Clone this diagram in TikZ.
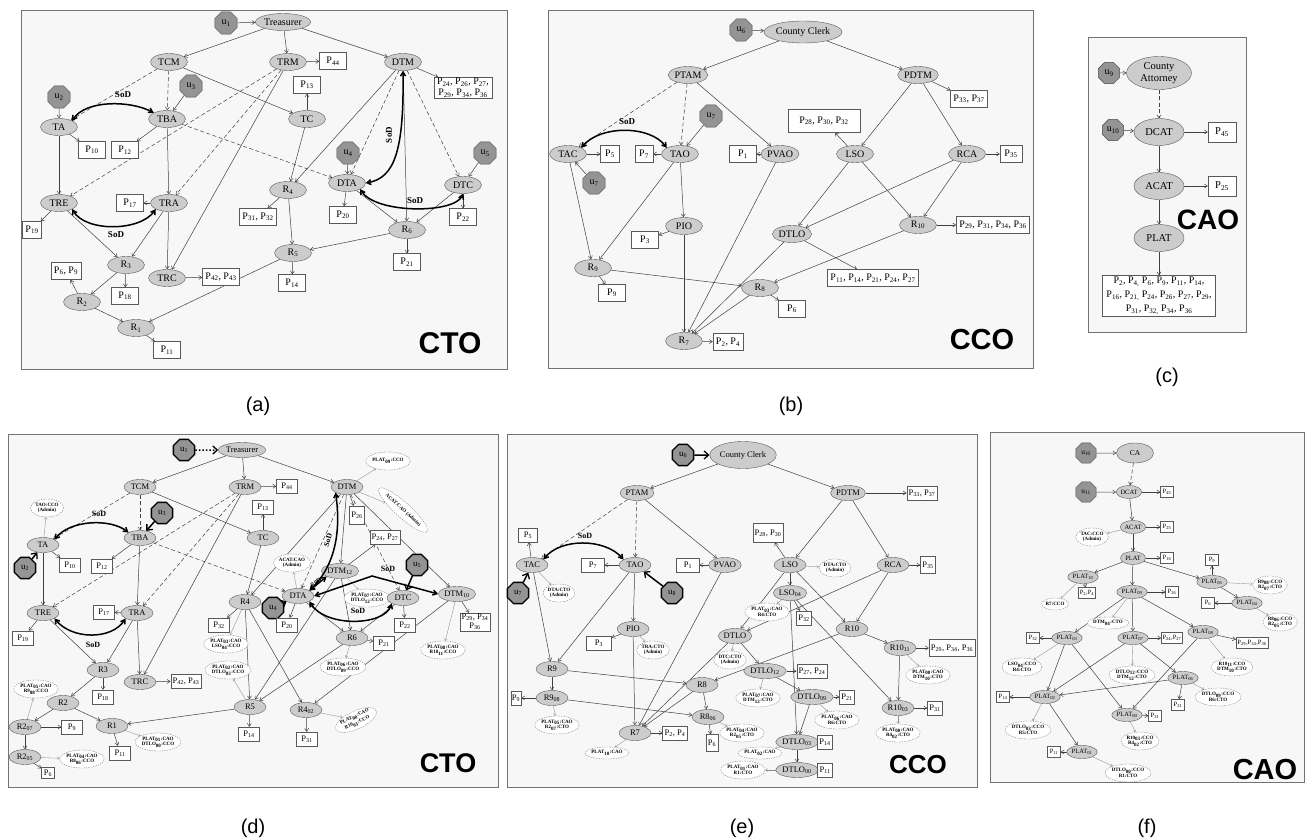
\documentclass[tikz,border=0pt]{standalone}
\usepackage{fontspec}
\setmainfont{Liberation Serif}
\setsansfont{Liberation Sans}
\usetikzlibrary{shapes.geometric,arrows.meta}
\pgfdeclarelayer{back}\pgfdeclarelayer{mid}\pgfsetlayers{back,mid,main}
\newcommand\Ps[1]{P\textsubscript{#1}}
\newcommand\ssb[1]{\textsubscript{#1}}
\tikzset{
 ea/.style={ellipse, draw=black!65, fill=black!20, inner sep=0.5pt, minimum width=37, minimum height=17, font=\fontsize{10}{11}\selectfont},
 ed/.style={ea, minimum width=32, minimum height=15, font=\fontsize{8.5}{9}\selectfont},
 ef/.style={ea, minimum width=25, minimum height=13, font=\fontsize{6.5}{7}\selectfont},
 ec/.style={ea, minimum width=50, minimum height=27, font=\fontsize{10.5}{12}\selectfont},
 ba/.style={rectangle, draw=black!65, fill=white, inner xsep=3pt, inner ysep=1pt, minimum width=27, minimum height=17, font=\fontsize{10}{11}\selectfont},
 bd/.style={ba, inner xsep=2pt, minimum width=21, minimum height=14, font=\fontsize{8.5}{9.5}\selectfont},
 bf/.style={ba, inner xsep=1.2pt, minimum width=13, minimum height=11, font=\fontsize{6.5}{7}\selectfont},
 bc/.style={ba, minimum width=28, minimum height=20, font=\fontsize{10.5}{12}\selectfont},
 oa/.style={regular polygon, regular polygon sides=8, draw=black!70, fill=black!42, minimum size=24, inner sep=0pt, font=\fontsize{10}{11}\selectfont},
 od/.style={oa, line width=1.3pt, draw=black, minimum size=23, font=\fontsize{9}{10}\selectfont},
 ofx/.style={oa, minimum size=22, font=\fontsize{7.5}{8}\selectfont},
 an/.style={ellipse, draw=black!50, dashed, dash pattern=on 1.5pt off 1pt, line width=0.35pt, fill=white, inner sep=0pt, minimum height=18, align=center, font=\bfseries\fontsize{5}{5.5}\selectfont},
 ar/.style={-{Straight Barb[length=3pt,width=4pt]}, draw=black!75, line width=0.5pt},
 da/.style={ar, dash pattern=on 4pt off 2.5pt},
 lt/.style={-{Straight Barb[length=2pt,width=2.8pt]}, draw=black!45, line width=0.35pt},
 sod/.style={{Straight Barb[length=4pt,width=5pt]}-{Straight Barb[length=4pt,width=5pt]}, line width=1.5pt, draw=black},
 sodl/.style={font=\bfseries\fontsize{9}{9}\selectfont, inner sep=0.5pt},
 uarr/.style={-{Straight Barb[length=4.5pt,width=8pt,line width=1.3pt]}, line width=1.5pt, draw=black},
 big/.style={font=\sffamily\bfseries\fontsize{30}{30}\selectfont, inner sep=0pt},
 lab/.style={font=\sffamily\fontsize{20}{20}\selectfont},
 panel/.style={draw=black!55, fill=black!3, line width=0.8pt},
}
\begin{document}
\begin{tikzpicture}[x=1pt,y=-1pt]
\useasboundingbox (0,0) rectangle (1306,840);
\begin{pgfonlayer}{back}
\fill[white] (0,0) rectangle (1306,840);
\draw[panel] (21,10) rectangle (507,369);
\draw[panel] (548,10) rectangle (1033,368);
\draw[panel] (1088,37) rectangle (1246,332);
\draw[panel] (8,434) rectangle (498,787);
\draw[panel] (507,434) rectangle (977,787);
\draw[panel] (990,432) rectangle (1304.5,782);
\end{pgfonlayer}
\node[lab] (la) at (258,406) {(a)};
\node[lab] (lb) at (791,406) {(b)};
\node[lab] (lc) at (1167,377) {(c)};
\node[lab] (ld) at (253,828) {(d)};
\node[lab] (le) at (742,828) {(e)};
\node[lab] (lf) at (1147,828) {(f)};

% ================= (a)
\node[oa] (a-u1) at (226,23) {u\ssb{1}};
\node[ea] (a-Tr) at (283,22) {Treasurer};
\node[ea] (a-TCM) at (169,62) {TCM};
\node[ea] (a-TRM) at (288,62) {TRM};
\node[ea] (a-DTM) at (403,62) {DTM};
\node[ba] (a-P44) at (333,61) {\Ps{44}};
\node[ba] (a-P13) at (307,85) {\Ps{13}};
\node[ba, align=center] (a-P24) at (463,88) {\Ps{24}, \Ps{26}, \Ps{27},\\\Ps{29}, \Ps{34}, \Ps{36}};
\node[oa] (a-u2) at (59,97) {u\ssb{2}};
\node[oa] (a-u3) at (191,86) {u\ssb{3}};
\node[ea] (a-TA) at (59,127) {TA};
\node[ea] (a-TBA) at (167,119) {TBA};
\node[ea] (a-TC) at (307,119) {TC};
\node[ba] (a-P10) at (92,150) {\Ps{10}};
\node[ba] (a-P12) at (125,150) {\Ps{12}};
\node[oa] (a-u4) at (348,153) {u\ssb{4}};
\node[oa] (a-u5) at (485,153) {u\ssb{5}};
\node[ea] (a-DTA) at (347,183) {DTA};
\node[ea] (a-DTC) at (463,185) {DTC};
\node[ea] (a-R4) at (288,190) {R\ssb{4}};
\node[ea] (a-TRE) at (59,203) {TRE};
\node[ba] (a-P17) at (130,203) {\Ps{17}};
\node[ea] (a-TRA) at (169,203) {TRA};
\node[ba] (a-P20) at (343,215) {\Ps{20}};
\node[ba] (a-P22) at (463,217) {\Ps{22}};
\node[ba] (a-P3132) at (258,217) {\Ps{31}, \Ps{32}};
\node[ba, minimum width=18] (a-P19) at (32,230) {\Ps{19}};
\node[ea] (a-R6) at (407,230) {R\ssb{6}};
\node[ea] (a-R5) at (293,253) {R\ssb{5}};
\node[ba] (a-P21) at (407,262) {\Ps{21}};
\node[ea] (a-R3) at (126,265) {R\ssb{3}};
\node[ba] (a-P69) at (66,271) {\Ps{6}, \Ps{9}};
\node[ea] (a-TRC) at (167,278) {TRC};
\node[ba] (a-P4243) at (221,277) {\Ps{42}, \Ps{43}};
\node[ba] (a-P14) at (292,283) {\Ps{14}};
\node[ba] (a-P18) at (125,296) {\Ps{18}};
\node[ea] (a-R2) at (82,302) {R\ssb{2}};
\node[ea] (a-R1) at (136,328) {R\ssb{1}};
\node[ba] (a-P11) at (167,350) {\Ps{11}};
\node[big] (a-lbl) at (450,343) {CTO};
\begin{pgfonlayer}{mid}
\draw[ar] (a-u1) -- (a-Tr);
\draw[ar] (a-Tr) -- (a-TCM);
\draw[ar] (a-Tr) -- (a-TRM);
\draw[ar] (a-Tr) -- (a-DTM);
\draw[da] (a-TCM) -- (a-TA);
\draw[da] (a-TCM) -- (a-TBA);
\draw[ar] (a-TCM) -- (a-TC);
\draw[ar] (a-TRM) -- (a-P44);
\draw[da] (a-TRM) -- (a-TRE);
\draw[da] (a-TRM) -- (a-TRA);
\draw[ar] (a-TRM) -- (a-TRC);
\draw[ar] (a-TC) -- (a-P13);
\draw[ar] (a-TC) -- (a-R4);
\draw[ar] (a-u2) -- (a-TA);
\draw[ar] (a-u3) -- (a-TBA);
\draw[ar] (a-TA) -- (a-P10);
\draw[ar] (a-TA) -- (a-TRE);
\draw[ar] (a-TBA) -- (a-P12);
\draw[ar] (a-TBA) -- (a-TRA);
\draw[da] (a-TBA) -- (a-DTA);
\draw[ar] (a-TRA) -- (a-P17);
\draw[ar] (a-TRA) -- (a-R3);
\draw[ar] (a-TRA) -- (a-TRC);
\draw[ar] (a-TRE) -- (a-P19);
\draw[ar] (a-TRE) -- (a-R3);
\draw[ar] (a-TRC) -- (a-P4243);
\draw[ar] (a-R3) -- (a-R2);
\draw[ar] (a-R3) -- (a-P18);
\draw[ar] (a-R2) -- (a-P69);
\draw[ar] (a-R2) -- (a-R1);
\draw[ar] (a-R1) -- (a-P11);
\draw[ar] (a-DTM) -- (a-R4);
\draw[da] (a-DTM) -- (a-DTA);
\draw[da] (a-DTM) -- (a-DTC);
\draw[ar] (a-DTM) -- (a-P24);
\draw[ar] (a-DTM) -- (a-R6);
\draw[ar] (a-u4) -- (a-DTA);
\draw[ar] (a-u5) -- (a-DTC);
\draw[ar] (a-DTA) -- (a-P20);
\draw[ar] (a-DTA) -- (a-R6);
\draw[ar] (a-DTC) -- (a-R6);
\draw[ar] (a-DTC) -- (a-P22);
\draw[ar] (a-R4) -- (a-P3132);
\draw[ar] (a-R4) -- (a-R5);
\draw[ar] (a-R6) -- (a-R5);
\draw[ar] (a-R6) -- (a-P21);
\draw[ar] (a-R5) -- (a-P14);
\draw[ar] (a-R5) -- (a-R1);
\end{pgfonlayer}
\draw[sod] (a-TA.north east) .. controls (85,100) and (130,100) .. (a-TBA.north west);
\node[sodl] (a-s1) at (123,95) {SoD};
\draw[sod] (a-TRE.south east) .. controls (85,232) and (140,232) .. (a-TRA.south west);
\node[sodl] (a-s2) at (116,235) {SoD};
\draw[sod] (a-DTM.south) .. controls (404,150) and (395,178) .. (a-DTA.east);
\node[sodl, rotate=90] (a-s3) at (389,135) {SoD};
\draw[sod] (a-DTA.south east) .. controls (375,214) and (455,214) .. (a-DTC.south);
\node[sodl] (a-s4) at (415,201) {SoD};

% ================= (b)
\node[oa] (b-u6) at (741,30) {u\ssb{6}};
\node[ea, minimum height=22] (b-CC) at (803,32) {County Clerk};
\node[ea] (b-PTAM) at (688,75) {PTAM};
\node[ea] (b-PDTM) at (918,75) {PDTM};
\node[ba] (b-P3337) at (969,99) {\Ps{33}, \Ps{37}};
\node[ba, minimum width=72, minimum height=23] (b-P283032) at (824,121) {\Ps{28}, \Ps{30}, \Ps{32}};
\node[oa] (b-u7a) at (711,116) {u\ssb{7}};
\node[ea] (b-TAC) at (568,154) {TAC};
\node[ba, minimum width=19] (b-P5) at (610,154) {\Ps{5}};
\node[ba, minimum width=18] (b-P7) at (644,154) {\Ps{7}};
\node[ea] (b-TAO) at (680,154) {TAO};
\node[ba] (b-P1) at (743,154) {\Ps{1}};
\node[ea] (b-PVAO) at (780,154) {PVAO};
\node[ea] (b-LSO) at (855,154) {LSO};
\node[ea] (b-RCA) at (967,154) {RCA};
\node[ba, minimum width=22] (b-P35) at (1011,154) {\Ps{35}};
\node[oa] (b-u7b) at (594,183) {u\ssb{7}};
\node[ea] (b-PIO) at (684,226) {PIO};
\node[ea] (b-R10) at (918,225) {R\ssb{10}};
\node[ba] (b-P29) at (993,225) {\Ps{29}, \Ps{31}, \Ps{34}, \Ps{36}};
\node[ba] (b-P3) at (645,240) {\Ps{3}};
\node[ea] (b-DTLO) at (792,234) {DTLO};
\node[ea] (b-R9) at (593,268) {R\ssb{9}};
\node[ba] (b-P11) at (873,278) {\Ps{11}, \Ps{14}, \Ps{21}, \Ps{24}, \Ps{27}};
\node[ea] (b-R8) at (760,288) {R\ssb{8}};
\node[ba] (b-P9) at (612,293) {\Ps{9}};
\node[ba] (b-P6) at (792,309) {\Ps{6}};
\node[ea] (b-R7) at (684,341) {R\ssb{7}};
\node[ba] (b-P24) at (728,342) {\Ps{2}, \Ps{4}};
\node[big, font=\sffamily\bfseries\fontsize{29}{29}\selectfont] (b-lbl) at (982,340) {CCO};
\begin{pgfonlayer}{mid}
\draw[ar] (b-u6) -- (b-CC);
\draw[ar] (b-CC) -- (b-PTAM);
\draw[ar] (b-CC) -- (b-PDTM);
\draw[da] (b-PTAM) -- (b-TAC);
\draw[da] (b-PTAM) -- (b-TAO);
\draw[ar] (b-PTAM) -- (b-PVAO);
\draw[ar] (b-u7a) -- (b-TAO);
\draw[ar] (b-u7b) -- (b-TAC);
\draw[ar] (b-TAC) -- (b-P5);
\draw[ar] (b-TAO) -- (b-P7);
\draw[ar] (b-PVAO) -- (b-P1);
\draw[ar] (b-TAC) -- (b-R9);
\draw[ar] (b-TAO) -- (b-R9);
\draw[ar] (b-TAO) -- (b-PIO);
\draw[ar] (b-PIO) -- (b-P3);
\draw[ar] (b-PIO) -- (b-R7);
\draw[ar] (b-PVAO) -- (b-R7);
\draw[ar] (b-R9) -- (b-P9);
\draw[ar] (b-R9) -- (b-R8);
\draw[ar] (b-R8) -- (b-P6);
\draw[ar] (b-R8) -- (b-R7);
\draw[ar] (b-DTLO) -- (b-R7);
\draw[ar] (b-R10) -- (b-R8);
\draw[ar] (b-R7) -- (b-P24);
\draw[ar] (b-PDTM) -- (b-P3337);
\draw[ar] (b-PDTM) -- (b-LSO);
\draw[ar] (b-PDTM) -- (b-RCA);
\draw[ar] (b-LSO) -- (b-P283032);
\draw[ar] (b-LSO) -- (b-DTLO);
\draw[ar] (b-LSO) -- (b-R10);
\draw[ar] (b-RCA) -- (b-DTLO);
\draw[ar] (b-RCA) -- (b-R10);
\draw[ar] (b-RCA) -- (b-P35);
\draw[ar] (b-R10) -- (b-P29);
\draw[ar] (b-DTLO) -- (b-P11);
\end{pgfonlayer}
\draw[sod] (b-TAC.north east) .. controls (600,125) and (650,125) .. (b-TAO.north west);
\node[sodl] (b-s1) at (627,122) {SoD};

% ================= (c)
\node[oa, minimum size=23] (c-u9) at (1109,73) {u\ssb{9}};
\node[ec, align=center, minimum width=65, minimum height=33] (c-CA) at (1159,73) {County\\Attorney};
\node[oa, minimum size=23] (c-u10) at (1113,130) {u\ssb{10}};
\node[ec] (c-DCAT) at (1159,132) {DCAT};
\node[bc] (c-P45) at (1222,132) {\Ps{45}};
\node[ec] (c-ACAT) at (1159,186) {ACAT};
\node[bc] (c-P25) at (1222,186) {\Ps{25}};
\node[ec] (c-PLAT) at (1159,238) {PLAT};
\node[big, font=\sffamily\bfseries\fontsize{28}{28}\selectfont] (c-lbl) at (1208,220) {CAO};
\node[ba, align=center, inner xsep=4pt, inner ysep=2pt, font=\fontsize{10}{14}\selectfont] (c-Pb) at (1159,296) {\Ps{2}, \Ps{4,} \Ps{6}, \Ps{9}, \Ps{11}, \Ps{14},\\\Ps{16}, \Ps{21,} \Ps{24}, \Ps{26}, \Ps{27}, \Ps{29},\\\Ps{31}, \Ps{32,} \Ps{34}, \Ps{36}};
\begin{pgfonlayer}{mid}
\draw[ar] (c-u9) -- (c-CA);
\draw[da] (c-CA) -- (c-DCAT);
\draw[ar] (c-u10) -- (c-DCAT);
\draw[ar] (c-DCAT) -- (c-P45);
\draw[ar] (c-DCAT) -- (c-ACAT);
\draw[ar] (c-ACAT) -- (c-P25);
\draw[ar] (c-ACAT) -- (c-PLAT);
\draw[ar] (c-PLAT) -- (c-Pb);
\end{pgfonlayer}

% ================= (d)
\node[od] (d-u1) at (184,450) {u\ssb{1}};
\node[ed] (d-Tr) at (242,450) {Treasurer};
\node[ed] (d-TCM) at (140,487) {TCM};
\node[ed] (d-TRM) at (245,487) {TRM};
\node[bd] (d-P44) at (287,486) {\Ps{44}};
\node[bd] (d-P13) at (263,507) {\Ps{13}};
\node[ed] (d-DTM) at (347,487) {DTM};
\node[an] (d-a1) at (388,461) {PLAT\ssb{09}:CCO};
\node[an, rotate=-42, minimum height=15] (d-a2) at (403,510) {ACAT:CAO (Admin)};
\node[bd, minimum width=12, minimum height=18] (d-P26) at (357,515) {\Ps{26}};
\node[an] (d-aTAO) at (47,508) {TAO:CCO\\(Admin)};
\node[od] (d-u3) at (162,513) {u\ssb{3}};
\node[ed] (d-TA) at (43,545) {TA};
\node[ed] (d-TBA) at (140,538) {TBA};
\node[ed] (d-TC) at (263,538) {TC};
\node[bd] (d-P10) at (70,565) {\Ps{10}};
\node[bd] (d-P12) at (102,566) {\Ps{12}};
\node[od] (d-u2) at (25,568) {u\ssb{2}};
\node[bd] (d-P2427) at (385,537) {\Ps{24}, \Ps{27}};
\node[od] (d-u5) at (417,565) {u\ssb{5}};
\node[an] (d-aACAT) at (292,563) {ACAT:CAO\\(Admin)};
\node[ed] (d-DTM12) at (340,571) {DTM\ssb{12}};
\node[ed] (d-DTA) at (298,596) {DTA};
\node[od] (d-u4) at (273,608) {u\ssb{4}};
\node[an] (d-a7) at (367,598) {PLAT\ssb{07}:CAO\\DTLO\ssb{12}:CCO};
\node[ed] (d-DTC) at (403,598) {DTC};
\node[ed] (d-DTM10) at (457,594) {DTM\ssb{10}};
\node[ed] (d-R4) at (245,602) {R4};
\node[ed] (d-TRE) at (43,613) {TRE};
\node[bd] (d-P17) at (104,612) {\Ps{17}};
\node[ed] (d-TRA) at (137,613) {TRA};
\node[bd] (d-P20) at (287,625) {\Ps{20}};
\node[bd] (d-P22) at (405,625) {\Ps{22}};
\node[bd, align=center, font=\fontsize{8.5}{9}\selectfont] (d-P2934) at (475,622) {\Ps{29}, \Ps{34}\\\Ps{36}};
\node[bd] (d-P32) at (219,625) {\Ps{32}};
\node[bd] (d-P19) at (23,638) {\Ps{19}};
\node[ed] (d-R6) at (352,638) {R6};
\node[bd] (d-P21) at (384,643) {\Ps{21}};
\node[an] (d-a8) at (443,650) {PLAT\ssb{08}:CAO\\R10\ssb{11}:CCO};
\node[an] (d-aLSO) at (226,644) {PLAT\ssb{03}:CAO\\LSO\ssb{04}:CCO};
\node[an] (d-a6) at (343,667) {PLAT\ssb{06}:CAO\\DTLO\ssb{09}:CCO};
\node[ed] (d-R3) at (103,670) {R3};
\node[an] (d-aDT03) at (228,670) {PLAT\ssb{02}:CAO\\DTLO\ssb{03}:CCO};
\node[ed] (d-TRC) at (140,682) {TRC};
\node[bd] (d-P4243) at (186,681) {\Ps{42}, \Ps{43}};
\node[an] (d-aR9) at (36,689) {PLAT\ssb{05}:CAO\\R9\ssb{08}:CCO};
\node[ed] (d-R2) at (63,703) {R2};
\node[bd] (d-P18) at (103,697) {\Ps{18}};
\node[ed] (d-R5) at (250,707) {R5};
\node[ed] (d-R402) at (306,710) {R4\ssb{02}};
\node[an, rotate=25, font=\bfseries\fontsize{5}{6.5}\selectfont] (d-a00) at (356,720) {PLAT\ssb{00}:CAO\\R10\ssb{03}:CCO};
\node[ed] (d-R207) at (25,727) {R2\ssb{07}};
\node[bd] (d-P9) at (72,727) {\Ps{9}};
\node[ed] (d-R1) at (112,726) {R1};
\node[bd] (d-P14) at (249,734) {\Ps{14}};
\node[bd] (d-P31) at (307,739) {\Ps{31}};
\node[an] (d-a01) at (158,742) {PLAT\ssb{01}:CAO\\DTLO\ssb{00}:CCO};
\node[bd] (d-P11) at (120,753) {\Ps{11}};
\node[ed] (d-R205) at (25,757) {R2\ssb{05}};
\node[an] (d-a04) at (82,759) {PLAT\ssb{04}:CAO\\R8\ssb{06}:CCO};
\node[bd, minimum width=13, minimum height=11] (d-P6) at (48,773) {\Ps{6}};
\node[big, font=\sffamily\bfseries\fontsize{27}{27}\selectfont] (d-lbl) at (448,763) {CTO};
\begin{pgfonlayer}{mid}
\draw[uarr, dotted] (d-u1) -- (d-Tr);
\draw[ar] (d-Tr) -- (d-TCM);
\draw[ar] (d-Tr) -- (d-TRM);
\draw[ar] (d-Tr) -- (d-DTM);
\draw[da] (d-TCM) -- (d-TA);
\draw[da] (d-TCM) -- (d-TBA);
\draw[ar] (d-TCM) -- (d-TC);
\draw[ar] (d-TRM) -- (d-P44);
\draw[da] (d-TRM) -- (d-TRE);
\draw[da] (d-TRM) -- (d-TRA);
\draw[ar] (d-TRM) -- (d-TRC);
\draw[ar] (d-TC) -- (d-P13);
\draw[ar] (d-TC) -- (d-R4);
\draw[lt] (d-TA) -- (d-aTAO);
\draw[uarr] (d-u2) -- (d-TA);
\draw[uarr] (d-u3) -- (d-TBA);
\draw[uarr] (d-u4) -- (d-DTA);
\draw[uarr] (d-u5) -- (d-DTC);
\draw[ar] (d-TA) -- (d-P10);
\draw[ar] (d-TA) -- (d-TRE);
\draw[ar] (d-TBA) -- (d-P12);
\draw[ar] (d-TBA) -- (d-TRA);
\draw[da] (d-TBA) -- (d-DTA);
\draw[ar] (d-TRA) -- (d-P17);
\draw[ar] (d-TRA) -- (d-R3);
\draw[ar] (d-TRA) -- (d-TRC);
\draw[ar] (d-TRE) -- (d-P19);
\draw[ar] (d-TRE) -- (d-R3);
\draw[ar] (d-TRC) -- (d-P4243);
\draw[ar] (d-R3) -- (d-R2);
\draw[ar] (d-R3) -- (d-P18);
\draw[ar] (d-R2) -- (d-R207);
\draw[ar] (d-R2) -- (d-R1);
\draw[ar] (d-R207) -- (d-P9);
\draw[ar] (d-R207) -- (d-R205);
\draw[ar] (d-R205) -- (d-P6);
\draw[ar] (d-R1) -- (d-P11);
\draw[ar] (d-R5) -- (d-R1);
\draw[ar] (d-R5) -- (d-P14);
\draw[ar] (d-R4) -- (d-P32);
\draw[ar] (d-R4) -- (d-R5);
\draw[ar] (d-R4) -- (d-R402);
\draw[ar] (d-R402) -- (d-P31);
\draw[ar] (d-DTM) -- (d-P26);
\draw[ar] (d-DTM) -- (d-DTM12);
\draw[ar] (d-DTM) -- (d-DTM10);
\draw[ar] (d-DTM) -- (d-R4);
\draw[ar] (d-DTM12) -- (d-P2427);
\draw[ar] (d-DTM12) -- (d-R6);
\draw[ar] (d-DTM12) -- (d-R5);
\draw[ar] (d-DTA) -- (d-P20);
\draw[ar] (d-DTA) -- (d-R6);
\draw[ar] (d-DTC) -- (d-P22);
\draw[ar] (d-DTC) -- (d-R6);
\draw[ar] (d-DTM10) -- (d-P2934);
\draw[ar] (d-DTM10) -- (d-R402);
\draw[ar] (d-R6) -- (d-P21);
\draw[ar] (d-R6) -- (d-R5);
\draw[da] (d-DTM) -- (d-DTA);
\draw[da] (d-DTM) -- (d-DTC);
\draw[lt] (d-R207) -- (d-aR9);
\draw[lt] (d-R205) -- (d-a04);
\draw[lt] (d-R1) -- (d-a01);
\draw[lt] (d-R4) -- (d-aLSO);
\draw[lt] (d-R5) -- (d-aDT03);
\draw[lt] (d-DTM) -- (d-a1);
\draw[lt] (d-DTM) -- (d-a2);
\draw[lt] (d-DTA) -- (d-aACAT);
\draw[lt] (d-DTM12) -- (d-a7);
\draw[lt] (d-DTM10) -- (d-a8);
\draw[lt] (d-R6) -- (d-a6);
\draw[lt] (d-R402) -- (d-a00);
\end{pgfonlayer}
\draw[sod] (d-TA.north east) .. controls (70,520) and (110,518) .. (d-TBA.north west);
\node[sodl, font=\bfseries\fontsize{8}{8}\selectfont] (d-s1) at (99,514) {SoD};
\draw[sod] (d-TRE.south east) .. controls (72,640) and (112,640) .. (d-TRA.south west);
\node[sodl, font=\bfseries\fontsize{8}{8}\selectfont] (d-s2) at (93,645) {SoD};
\draw[sod] (d-DTM.south west) .. controls (341,530) and (336,565) .. (d-DTA.north east);
\node[sodl, rotate=72, font=\bfseries\fontsize{7.5}{8}\selectfont] (d-s3) at (328,540) {SoD};
\draw[sod] (d-DTA.north east) -- (d-DTM12.south west);
\node[sodl, rotate=35, font=\bfseries\fontsize{6.5}{7}\selectfont] (d-s4) at (316,582) {SoD};
\coordinate (d-k1) at (372,576);
\draw[sod] (d-DTA.east) -- (d-k1) -- (d-DTM10.west);
\node[sodl, font=\bfseries\fontsize{8}{8}\selectfont] (d-s5) at (388,569) {SoD};
\draw[sod] (d-DTA.south east) .. controls (325,628) and (385,626) .. (d-DTC.south west);
\node[sodl, font=\bfseries\fontsize{8}{8}\selectfont] (d-s6) at (358,611) {SoD};

% ================= (e)
\node[od] (e-u6) at (683,455) {u\ssb{6}};
\node[ed, minimum height=27] (e-CC) at (743,455) {County Clerk};
\node[ed] (e-PTAM) at (637,493) {PTAM};
\node[ed] (e-PDTM) at (848,493) {PDTM};
\node[bd] (e-P3337) at (922,493) {\Ps{33}, \Ps{37}};
\node[bd, minimum width=19] (e-P5) at (528,535) {\Ps{5}};
\node[bd, minimum height=19] (e-P2830) at (768,533) {\Ps{28}, \Ps{30}};
\node[ed] (e-TAC) at (532,565) {TAC};
\node[bd, minimum width=23] (e-P7) at (593,565) {\Ps{7}};
\node[ed] (e-TAO) at (635,565) {TAO};
\node[bd, minimum width=23] (e-P1) at (688,565) {\Ps{1}};
\node[ed] (e-PVAO) at (725,565) {PVAO};
\node[ed] (e-LSO) at (790,565) {LSO};
\node[an] (e-aDTA) at (835,568) {DTA:CTO\\(Admin)};
\node[ed] (e-RCA) at (893,565) {RCA};
\node[bd, minimum width=14, minimum height=17] (e-P35) at (928,565) {\Ps{35}};
\node[od] (e-u7) at (518,593) {u\ssb{7}};
\node[an] (e-aDTA2) at (559,593) {DTA:CTO\\(Admin)};
\node[od] (e-u8) at (672,593) {u\ssb{8}};
\node[ed] (e-LSO04) at (790,593) {LSO\ssb{04}};
\node[an] (e-aLSO) at (767,612) {PLAT\ssb{03}:CAO\\R4:CTO};
\node[bd, minimum width=13] (e-P32) at (804,618) {\Ps{32}};
\node[ed] (e-PIO) at (633,629) {PIO};
\node[ed] (e-R10) at (852,629) {R10};
\node[ed] (e-DTLO) at (735,636) {DTLO};
\node[bd, minimum width=25] (e-P3) at (599,643) {\Ps{3}};
\node[an] (e-aTRA) at (653,650) {TRA:CTO\\(Admin)};
\node[ed] (e-R1011) at (900,648) {R10\ssb{11}};
\node[bd, minimum height=17] (e-P2934) at (952,648) {\Ps{29}, \Ps{34}, \Ps{36}};
\node[an] (e-aDTC) at (730,660) {DTC:CTO\\(Admin)};
\node[ed] (e-R9) at (552,669) {R9};
\node[ed] (e-DTLO12) at (765,671) {DTLO\ssb{12}};
\node[bd] (e-P2724) at (812,671) {\Ps{27}, \Ps{24}};
\node[an] (e-a08) at (928,675) {PLAT\ssb{08}:CAO\\DTM\ssb{10}:CTO};
\node[ed] (e-R8) at (702,685) {R8};
\node[an] (e-a07) at (758,698) {PLAT\ssb{07}:CAO\\DTM\ssb{12}:CTO};
\node[ed] (e-DTLO09) at (812,697) {DTLO\ssb{09}};
\node[bd, minimum width=12] (e-P21) at (847,697) {\Ps{21}};
\node[bd, minimum width=9, inner xsep=1pt] (e-P9) at (516,698) {\Ps{9}};
\node[ed] (e-R908) at (552,698) {R9\ssb{08}};
\node[ed] (e-R1003) at (898,708) {R10\ssb{03}};
\node[bd, minimum width=13] (e-P31) at (935,708) {\Ps{31}};
\node[ed] (e-R806) at (708,717) {R8\ssb{06}};
\node[an] (e-aR2) at (557,725) {PLAT\ssb{05}:CAO\\R2\ssb{07}:CTO};
\node[an] (e-aR6) at (837,720) {PLAT\ssb{06}:CAO\\R6:CTO};
\node[ed] (e-R7) at (635,733) {R7};
\node[bd] (e-P24) at (675,733) {\Ps{2}, \Ps{4}};
\node[an] (e-a00) at (898,733) {PLAT\ssb{00}:CAO\\R4\ssb{02}:CTO};
\node[an] (e-a04) at (742,733) {PLAT\ssb{04}:CAO\\R2\ssb{05}:CTO};
\node[ed] (e-DTLO03) at (797,742) {DTLO\ssb{03}};
\node[bd, minimum width=13] (e-P14) at (825,742) {\Ps{14}};
\node[bd, minimum width=12, minimum height=17] (e-P6) at (712,743) {\Ps{6}};
\node[an, minimum height=12] (e-aP10) at (607,753) {PLAT\ssb{10}:CAO};
\node[an, minimum height=12] (e-aP02) at (760,753) {PLAT\ssb{02}:CAO};
\node[an] (e-a01) at (743,770) {PLAT\ssb{01}:CAO\\R1:CTO};
\node[ed] (e-DTLO00) at (797,770) {DTLO\ssb{00}};
\node[bd, minimum width=13] (e-P11) at (825,770) {\Ps{11}};
\node[big, font=\sffamily\bfseries\fontsize{26}{26}\selectfont] (e-lbl) at (918,765) {CCO};
\begin{pgfonlayer}{mid}
\draw[uarr] (e-u6) -- (e-CC);
\draw[uarr] (e-u7) -- (e-TAC);
\draw[uarr] (e-u8) -- (e-TAO);
\draw[ar] (e-CC) -- (e-PTAM);
\draw[ar] (e-CC) -- (e-PDTM);
\draw[ar] (e-PTAM) -- (e-PVAO);
\draw[da] (e-PTAM) -- (e-TAC);
\draw[da] (e-PTAM) -- (e-TAO);
\draw[ar] (e-TAC) -- (e-P5);
\draw[ar] (e-TAC) -- (e-R9);
\draw[ar] (e-TAO) -- (e-P7);
\draw[ar] (e-TAO) -- (e-PIO);
\draw[ar] (e-TAO) -- (e-R9);
\draw[ar] (e-PVAO) -- (e-P1);
\draw[ar] (e-PVAO) -- (e-R7);
\draw[ar] (e-PIO) -- (e-P3);
\draw[ar] (e-PIO) -- (e-R7);
\draw[ar] (e-R9) -- (e-R8);
\draw[ar] (e-R9) -- (e-R908);
\draw[ar] (e-R908) -- (e-P9);
\draw[ar] (e-R908) -- (e-R806);
\draw[ar] (e-R8) -- (e-R806);
\draw[ar] (e-R8) -- (e-R7);
\draw[ar] (e-R806) -- (e-P6);
\draw[ar] (e-R7) -- (e-P24);
\draw[ar] (e-DTLO) -- (e-R7);
\draw[ar] (e-DTLO) -- (e-DTLO12);
\draw[ar] (e-R10) -- (e-R8);
\draw[ar] (e-PDTM) -- (e-P3337);
\draw[ar] (e-PDTM) -- (e-LSO);
\draw[ar] (e-PDTM) -- (e-RCA);
\draw[ar] (e-LSO) -- (e-P2830);
\draw[ar] (e-LSO) -- (e-LSO04);
\draw[ar] (e-LSO) -- (e-R10);
\draw[ar] (e-LSO) -- (e-DTLO);
\draw[ar] (e-RCA) -- (e-P35);
\draw[ar] (e-RCA) -- (e-R10);
\draw[ar] (e-RCA) -- (e-DTLO);
\draw[ar] (e-LSO04) -- (e-P32);
\draw[ar] (e-LSO04) -- (e-DTLO03);
\draw[ar] (e-LSO04) -- (e-R1003);
\draw[ar] (e-R10) -- (e-R1011);
\draw[ar] (e-R1011) -- (e-P2934);
\draw[ar] (e-R1011) -- (e-R1003);
\draw[ar] (e-R1003) -- (e-P31);
\draw[ar] (e-DTLO12) -- (e-P2724);
\draw[ar] (e-DTLO12) -- (e-DTLO09);
\draw[ar] (e-DTLO09) -- (e-P21);
\draw[ar] (e-DTLO09) -- (e-DTLO03);
\draw[ar] (e-DTLO03) -- (e-P14);
\draw[ar] (e-DTLO03) -- (e-DTLO00);
\draw[ar] (e-DTLO00) -- (e-P11);
\draw[lt] (e-TAC) -- (e-aDTA2);
\draw[lt] (e-PIO) -- (e-aTRA);
\draw[lt] (e-R908) -- (e-aR2);
\draw[lt] (e-R7) -- (e-aP10);
\draw[lt] (e-DTLO) -- (e-aDTC);
\draw[lt] (e-LSO) -- (e-aDTA);
\draw[lt] (e-LSO04) -- (e-aLSO);
\draw[lt] (e-R1011) -- (e-a08);
\draw[lt] (e-DTLO12) -- (e-a07);
\draw[lt] (e-DTLO09) -- (e-aR6);
\draw[lt] (e-R1003) -- (e-a00);
\draw[lt] (e-R806) -- (e-a04);
\draw[lt] (e-DTLO03) -- (e-aP02);
\draw[lt] (e-DTLO00) -- (e-a01);
\end{pgfonlayer}
\draw[sod] (e-TAC.north east) .. controls (560,538) and (605,538) .. (e-TAO.north west);
\node[sodl, font=\bfseries\fontsize{8}{8}\selectfont] (e-s1) at (585,536) {SoD};

% ================= (f)
\node[ofx] (f-u10) at (1086,453) {u\ssb{10}};
\node[ef, minimum width=37, minimum height=20, font=\fontsize{7.5}{8}\selectfont] (f-CA) at (1135,453) {CA};
\node[ofx] (f-u11) at (1086,492) {u\ssb{11}};
\node[ef] (f-DCAT) at (1129,492) {DCAT};
\node[bf] (f-P45) at (1167,492) {\Ps{45}};
\node[ef] (f-ACAT) at (1133,527) {ACAT};
\node[bf] (f-P25) at (1167,527) {\Ps{25}};
\node[an] (f-aTAC) at (1092,537) {TAC:CCO\\(Admin)};
\node[ef] (f-PLAT) at (1133,558) {PLAT};
\node[bf] (f-P16) at (1167,558) {\Ps{16}};
\node[bf] (f-P9) at (1212,560) {\Ps{9}};
\node[ef] (f-PLAT10) at (1083,577) {PLAT\ssb{10}};
\node[ef] (f-PLAT05) at (1212,582) {PLAT\ssb{05}};
\node[an] (f-aR9) at (1270,585) {R9\ssb{08}:CCO\\R2\ssb{07}:CTO};
\node[ef] (f-PLAT09) at (1132,592) {PLAT\ssb{09}};
\node[bf] (f-P26) at (1172,592) {\Ps{26}};
\node[bf] (f-P24) at (1087,593) {\Ps{2},\Ps{4}};
\node[an, minimum height=12] (f-aR7) at (1055,604) {R7:CCO};
\node[bf] (f-P6) at (1208,603) {\Ps{6}};
\node[ef] (f-PLAT04) at (1247,603) {PLAT\ssb{04}};
\node[an, minimum height=12] (f-aDTM) at (1108,623) {DTM\ssb{04}:CTO};
\node[an] (f-aR8) at (1280,622) {R8\ssb{06}:CCO\\R2\ssb{05}:CTO};
\node[bf] (f-P32) at (1033,638) {\Ps{32}};
\node[ef] (f-PLAT03) at (1067,638) {PLAT\ssb{03}};
\node[ef] (f-PLAT07) at (1133,638) {PLAT\ssb{07}};
\node[bf] (f-P2427) at (1172,638) {\Ps{24},\Ps{27}};
\node[ef] (f-PLAT08) at (1203,632) {PLAT\ssb{08}};
\node[bf] (f-P2934) at (1252,643) {\Ps{29},\Ps{34},\Ps{36}};
\node[an] (f-aLSO) at (1022,667) {LSO\ssb{04}:CCO\\R4:CTO};
\node[an] (f-aR10) at (1232,667) {R10\ssb{11}:CCO\\DTM\ssb{10}:CTO};
\node[an] (f-aDTLO12) at (1132,675) {DTLO\ssb{12}:CCO\\DTM\ssb{12}:CTO};
\node[ef] (f-PLAT06) at (1183,678) {PLAT\ssb{06}};
\node[ef] (f-PLAT02) at (1045,697) {PLAT\ssb{02}};
\node[bf] (f-P14) at (1003,697) {\Ps{14}};
\node[an] (f-aDTLO09) at (1218,697) {DTLO\ssb{09}:CCO\\R6:CTO};
\node[bf] (f-P21) at (1178,705) {\Ps{21}};
\node[ef] (f-PLAT00) at (1127,715) {PLAT\ssb{00}};
\node[bf] (f-P31) at (1155,716) {\Ps{31}};
\node[an] (f-aDTLO03) at (1028,730) {DTLO\ssb{03}:CCO\\R5:CTO};
\node[an] (f-aR1003) at (1140,741) {R10\ssb{03}:CCO\\R4\ssb{02}:CTO};
\node[bf] (f-P11) at (1054,752) {\Ps{11}};
\node[ef] (f-PLAT01) at (1082,752) {PLAT\ssb{01}};
\node[an] (f-aDTLO00) at (1128,773) {DTLO\ssb{00}:CCO\\R1:CTO};
\node[big, font=\sffamily\bfseries\fontsize{29}{29}\selectfont] (f-lbl) at (1265,770) {CAO};
\begin{pgfonlayer}{mid}
\draw[ar] (f-u10) -- (f-CA);
\draw[da] (f-CA) -- (f-DCAT);
\draw[ar] (f-u11) -- (f-DCAT);
\draw[ar] (f-DCAT) -- (f-P45);
\draw[ar] (f-DCAT) -- (f-ACAT);
\draw[ar] (f-ACAT) -- (f-P25);
\draw[ar] (f-ACAT) -- (f-PLAT);
\draw[ar] (f-PLAT) -- (f-P16);
\draw[ar] (f-PLAT) -- (f-PLAT10);
\draw[ar] (f-PLAT) -- (f-PLAT09);
\draw[ar] (f-PLAT) -- (f-PLAT05);
\draw[ar] (f-PLAT10) -- (f-P24);
\draw[ar] (f-PLAT05) -- (f-P9);
\draw[ar] (f-PLAT05) -- (f-PLAT04);
\draw[ar] (f-PLAT04) -- (f-P6);
\draw[ar] (f-PLAT09) -- (f-P26);
\draw[ar] (f-PLAT09) -- (f-PLAT03);
\draw[ar] (f-PLAT09) -- (f-PLAT07);
\draw[ar] (f-PLAT09) -- (f-PLAT08);
\draw[ar] (f-PLAT03) -- (f-P32);
\draw[ar] (f-PLAT03) -- (f-PLAT02);
\draw[ar] (f-PLAT03) -- (f-PLAT00);
\draw[ar] (f-PLAT07) -- (f-P2427);
\draw[ar] (f-PLAT07) -- (f-PLAT02);
\draw[ar] (f-PLAT07) -- (f-PLAT06);
\draw[ar] (f-PLAT08) -- (f-P2934);
\draw[ar] (f-PLAT08) -- (f-PLAT00);
\draw[ar] (f-PLAT06) -- (f-P21);
\draw[ar] (f-PLAT06) -- (f-PLAT02);
\draw[ar] (f-PLAT02) -- (f-P14);
\draw[ar] (f-PLAT02) -- (f-PLAT01);
\draw[ar] (f-PLAT00) -- (f-P31);
\draw[ar] (f-PLAT01) -- (f-P11);
\draw[lt] (f-ACAT) -- (f-aTAC);
\draw[lt] (f-PLAT10) -- (f-aR7);
\draw[lt] (f-PLAT05) -- (f-aR9);
\draw[lt] (f-PLAT04) -- (f-aR8);
\draw[lt] (f-PLAT09) -- (f-aDTM);
\draw[lt] (f-PLAT03) -- (f-aLSO);
\draw[lt] (f-PLAT07) -- (f-aDTLO12);
\draw[lt] (f-PLAT08) -- (f-aR10);
\draw[lt] (f-PLAT06) -- (f-aDTLO09);
\draw[lt] (f-PLAT02) -- (f-aDTLO03);
\draw[lt] (f-PLAT00) -- (f-aR1003);
\draw[lt] (f-PLAT01) -- (f-aDTLO00);
\end{pgfonlayer}
\end{tikzpicture}
\end{document}
